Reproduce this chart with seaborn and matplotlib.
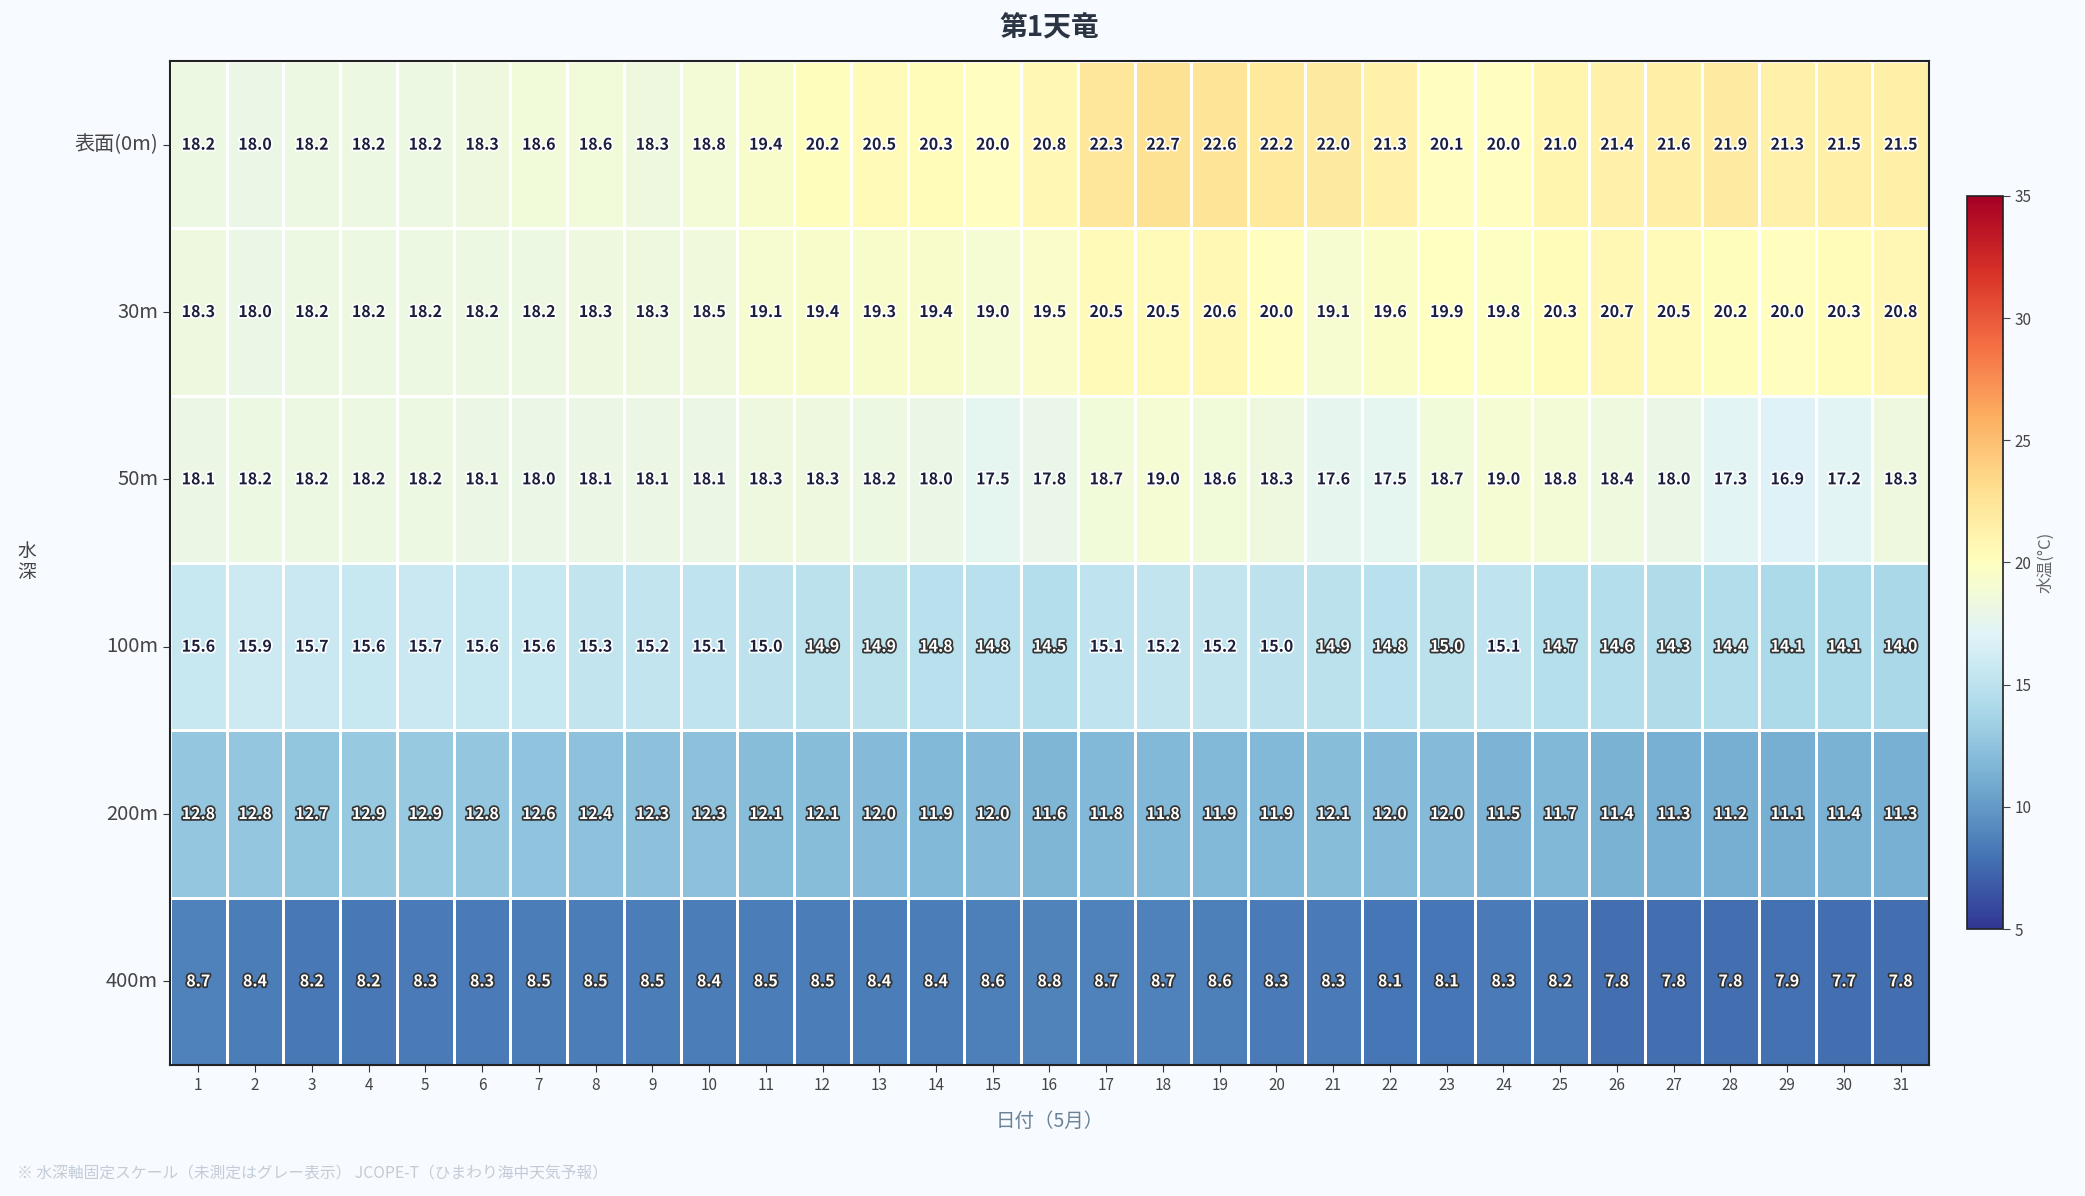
import numpy as np
import pandas as pd
import matplotlib
matplotlib.use('Agg')
import matplotlib.pyplot as plt
import matplotlib.patheffects as pe
import seaborn as sns

# data
days = list(range(1, 32))
depths = ['表面(0m)', '30m', '50m', '100m', '200m', '400m']

t_surface = [18.2, 18.0, 18.2, 18.2, 18.2, 18.3, 18.6, 18.6, 18.3, 18.8, 19.4, 20.2, 20.5, 20.3, 20.0, 20.8,
             22.3, 22.7, 22.6, 22.2, 22.0, 21.3, 20.1, 20.0, 21.0, 21.4, 21.6, 21.9, 21.3, 21.5, 21.5]
t_30m = [18.3, 18.0, 18.2, 18.2, 18.2, 18.2, 18.2, 18.3, 18.3, 18.5, 19.1, 19.4, 19.3, 19.4, 19.0, 19.5,
         20.5, 20.5, 20.6, 20.0, 19.1, 19.6, 19.9, 19.8, 20.3, 20.7, 20.5, 20.2, 20.0, 20.3, 20.8]
t_50m = [18.1, 18.2, 18.2, 18.2, 18.2, 18.1, 18.0, 18.1, 18.1, 18.1, 18.3, 18.3, 18.2, 18.0, 17.5, 17.8,
         18.7, 19.0, 18.6, 18.3, 17.6, 17.5, 18.7, 19.0, 18.8, 18.4, 18.0, 17.3, 16.9, 17.2, 18.3]
t_100m = [15.6, 15.9, 15.7, 15.6, 15.7, 15.6, 15.6, 15.3, 15.2, 15.1, 15.0, 14.9, 14.9, 14.8, 14.8, 14.5,
          15.1, 15.2, 15.2, 15.0, 14.9, 14.8, 14.96, 15.1, 14.7, 14.6, 14.3, 14.4, 14.1, 14.1, 14.0]
t_200m = [12.8, 12.8, 12.7, 12.9, 12.9, 12.8, 12.6, 12.4, 12.3, 12.3, 12.1, 12.1, 12.0, 11.9, 12.0, 11.6,
          11.8, 11.8, 11.9, 11.9, 12.1, 12.0, 12.0, 11.5, 11.7, 11.4, 11.3, 11.2, 11.1, 11.4, 11.3]
t_400m = [8.7, 8.4, 8.2, 8.2, 8.3, 8.3, 8.5, 8.5, 8.5, 8.4, 8.5, 8.5, 8.4, 8.4, 8.6, 8.8,
          8.7, 8.7, 8.6, 8.3, 8.3, 8.1, 8.1, 8.3, 8.2, 7.8, 7.8, 7.8, 7.9, 7.7, 7.8]

df = pd.DataFrame([t_surface, t_30m, t_50m, t_100m, t_200m, t_400m], index=depths, columns=days)

bg = '#f7faff'
plt.rcParams['font.family'] = ['Noto Sans CJK JP', 'DejaVu Sans']

fig = plt.figure(figsize=(20.85, 11.96), dpi=100, facecolor=bg)
ax = fig.add_axes([0.0815, 0.1095, 0.8437, 0.8395])
cax = fig.add_axes([0.9434, 0.2232, 0.0173, 0.613])

sns.heatmap(df, ax=ax, cbar_ax=cax, cmap='RdYlBu_r', vmin=5, vmax=35,
            linewidths=2, linecolor='white', annot=True, fmt='.1f',
            annot_kws={'fontsize': 11.5, 'fontweight': 'bold'})

# text colors: dark on warm cells, white with dark outline on cold cells
vals = df.values.flatten()
for txt, v in zip(ax.texts, vals):
    if v < 15:
        txt.set_color('white')
        txt.set_path_effects([pe.withStroke(linewidth=2.5, foreground='#333333')])
    else:
        txt.set_color('#1b1f3b')
        txt.set_path_effects([pe.withStroke(linewidth=2.5, foreground='white')])

for s in ax.spines.values():
    s.set_visible(True)
    s.set_color('#222222')
    s.set_linewidth(1.5)

ax.set_title('第1天竜', fontsize=20, fontweight='bold', color='#2b3442', pad=18)
ax.set_xlabel('日付（5月）', fontsize=14, color='#6a8297', labelpad=12)
ax.set_ylabel('')
fig.text(0.013, 0.53, '水\n深', fontsize=13.5, color='#444444', ha='center', va='center', linespacing=1.0)
ax.tick_params(axis='x', labelsize=11, colors='#333333', length=5, rotation=0)
ax.tick_params(axis='y', labelsize=14.5, colors='#333333', length=5, rotation=0)
for lab in ax.get_xticklabels() + ax.get_yticklabels():
    lab.set_color('#444444')

cbar = ax.collections[0].colorbar
cbar.set_ticks([5, 10, 15, 20, 25, 30, 35])
cbar.ax.tick_params(labelsize=11, colors='#444444', length=5)
cbar.set_label('水温(°C)', fontsize=12, color='#666666')
cbar.outline.set_visible(True)
cbar.outline.set_edgecolor('#222222')
cbar.outline.set_linewidth(1.2)

fig.text(0.008, 0.018, '※ 水深軸固定スケール（未測定はグレー表示） JCOPE-T（ひまわり海中天気予報）',
         fontsize=11.3, color='#c3ccd6', ha='left', va='center')

fig.savefig('out.png', dpi=100, facecolor=bg)
